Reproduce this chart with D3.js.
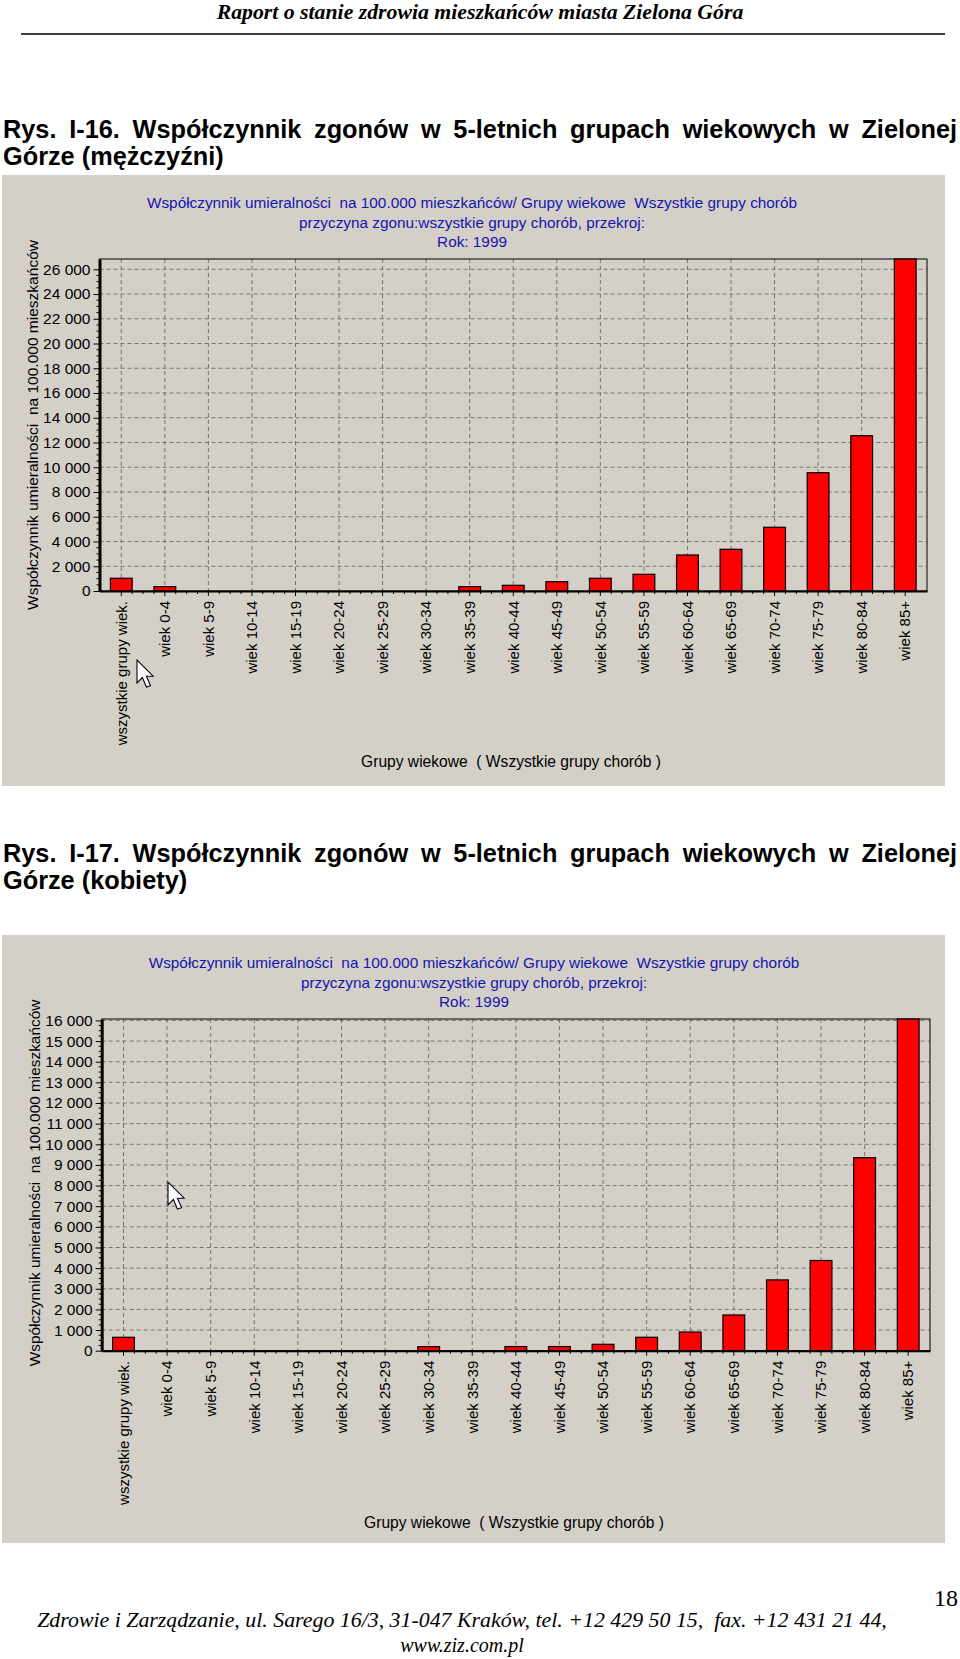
<!DOCTYPE html>
<meta charset="utf-8">
<style>
  body { margin: 0; background: #fff; }
  svg text { white-space: pre; }
</style>
<script src="https://cdn.jsdelivr.net/npm/d3@7"></script>
<body>
<script>

// age groups on the x axis
var categories = ["wszystkie grupy wiek.", "wiek 0-4", "wiek 5-9", "wiek 10-14", "wiek 15-19",
  "wiek 20-24", "wiek 25-29", "wiek 30-34", "wiek 35-39", "wiek 40-44", "wiek 45-49",
  "wiek 50-54", "wiek 55-59", "wiek 60-64", "wiek 65-69", "wiek 70-74", "wiek 75-79",
  "wiek 80-84", "wiek 85+"];

// deaths per 100 000, 1999
var menValues = [1030, 350, 0, 0, 0, 0, 0, 0, 350, 460, 750, 1030, 1350, 2910, 3370, 5150, 9560, 12550, 26830];
var womenValues = [650, 0, 0, 0, 0, 0, 0, 195, 0, 200, 200, 310, 650, 905, 1730, 3430, 4370, 9350, 16070];

var menTicks = d3.range(0, 26001, 2000);
var womenTicks = d3.range(0, 16001, 1000);
var menMax = 26830, womenMax = 16070;

var chartTitle = ["Współczynnik umieralności  na 100.000 mieszkańców/ Grupy wiekowe  Wszystkie grupy chorób",
  "przyczyna zgonu:wszystkie grupy chorób, przekroj:",
  "Rok: 1999"];
var yTitle = "Współczynnik umieralności  na 100.000 mieszkańców";
var xTitle = "Grupy wiekowe  ( Wszystkie grupy chorób )";

var SANS = "'Liberation Sans', Arial, sans-serif";
var SERIF = "'Liberation Serif', 'Times New Roman', serif";

var locale = d3.formatLocale({decimal: ",", thousands: " ", grouping: [3], currency: ["", ""]});
var fmt = locale.format(",d");

var svg = d3.select("body").append("svg")
  .attr("width", 960)
  .attr("height", 1659);

function fitFont(sel, target) {
  var w = sel.node().getComputedTextLength();
  var fs = parseFloat(sel.attr("font-size"));
  sel.attr("font-size", (fs * target / w).toFixed(2));
  return sel;
}

// spread the words of a line between x0 and x1
function justify(g, str, x0, x1, y) {
  var words = str.split(" ");
  var nodes = words.map(function(w) { return g.append("text").attr("y", y).text(w); });
  var widths = nodes.map(function(n) { return n.node().getComputedTextLength(); });
  var gap = (x1 - x0 - d3.sum(widths)) / (words.length - 1);
  var cx = x0;
  nodes.forEach(function(n, i) { n.attr("x", cx); cx += widths[i] + gap; });
}

function cursor(x, y) {
  svg.append("path")
    .attr("d", "M0,0 L0,17 L4,13 L7,20 L10,19 L7,12 L12,12 Z")
    .attr("transform", "translate(" + x + "," + y + ") scale(1.35)")
    .attr("fill", "#fff")
    .attr("stroke", "#000")
    .attr("stroke-width", 0.8);
}

// page header
fitFont(svg.append("text")
  .attr("x", 480).attr("y", 19)
  .attr("text-anchor", "middle")
  .attr("font-family", SERIF).attr("font-style", "italic").attr("font-weight", "bold")
  .attr("font-size", 20)
  .text("Raport o stanie zdrowia mieszkańców miasta Zielona Góra"), 527);

svg.append("line")
  .attr("x1", 21).attr("x2", 945).attr("y1", 34).attr("y2", 34)
  .attr("stroke", "#000").attr("stroke-width", 1.5);

// figure captions
var cap = svg.append("g").attr("font-family", SANS).attr("font-weight", "bold").attr("font-size", 25.3);
justify(cap, "Rys. I-16. Współczynnik zgonów w 5-letnich grupach wiekowych w Zielonej", 3, 957, 138);
cap.append("text").attr("x", 3).attr("y", 165).text("Górze (mężczyźni)");
justify(cap, "Rys. I-17. Współczynnik zgonów w 5-letnich grupach wiekowych w Zielonej", 3, 957, 862);
cap.append("text").attr("x", 3).attr("y", 889).text("Górze (kobiety)");

function drawChart(cfg, values, ticks, yMax) {
  var g = svg.append("g");

  g.append("rect")
    .attr("x", cfg.panel[0]).attr("y", cfg.panel[1])
    .attr("width", cfg.panel[2] - cfg.panel[0]).attr("height", cfg.panel[3] - cfg.panel[1])
    .attr("fill", "#d4d0c8");

  var x = d3.scaleBand()
    .domain(categories)
    .range([cfg.left, cfg.right])
    .paddingInner(0.5)
    .paddingOuter(0.25);

  var y = d3.scaleLinear()
    .domain([0, yMax])
    .range([cfg.bottom, cfg.top]);

  var cx = function(d) { return x(d) + x.bandwidth() / 2; };

  // titles
  var tg = g.append("g").attr("font-family", SANS).attr("fill", "#1414b0").attr("text-anchor", "middle");
  var t0 = tg.append("text").attr("x", cfg.titleX).attr("y", cfg.titleY[0]).attr("font-size", 14).text(chartTitle[0]);
  fitFont(t0, cfg.titleW);
  tg.selectAll("text.sub").data(chartTitle.slice(1)).enter().append("text")
    .attr("class", "sub")
    .attr("x", cfg.titleX)
    .attr("y", function(d, i) { return cfg.titleY[i + 1]; })
    .attr("font-size", t0.attr("font-size"))
    .text(function(d) { return d; });

  // grid
  var grid = g.append("g").attr("stroke", "#747474").attr("stroke-dasharray", "4,3");
  grid.selectAll("line.h").data(ticks.filter(function(d) { return d > 0; })).enter().append("line")
    .attr("x1", cfg.left).attr("x2", cfg.right)
    .attr("y1", y).attr("y2", y);
  grid.selectAll("line.v").data(categories).enter().append("line")
    .attr("x1", cx).attr("x2", cx)
    .attr("y1", cfg.top).attr("y2", cfg.bottom);

  g.append("rect")
    .attr("x", cfg.left).attr("y", cfg.top)
    .attr("width", cfg.right - cfg.left).attr("height", cfg.bottom - cfg.top)
    .attr("fill", "none").attr("stroke", "#000");

  // bars
  g.append("g").selectAll("rect")
    .data(values.map(function(v, i) { return {k: categories[i], v: v}; }).filter(function(d) { return d.v > 0; }))
    .enter().append("rect")
    .attr("x", function(d) { return x(d.k); })
    .attr("y", function(d) { return y(d.v); })
    .attr("width", x.bandwidth())
    .attr("height", function(d) { return cfg.bottom - y(d.v); })
    .attr("fill", "#ff0000")
    .attr("stroke", "#000")
    .attr("stroke-width", 1.2);

  // y axis
  var ya = g.append("g")
    .attr("transform", "translate(" + cfg.left + ",0)")
    .call(d3.axisLeft(y).tickValues(ticks).tickFormat(fmt).tickSize(6).tickSizeOuter(0).tickPadding(3));
  ya.attr("font-family", SANS).attr("font-size", 15.5);
  ya.select(".domain").attr("stroke-width", 3);

  var step = ticks[1] - ticks[0];
  ya.append("g").selectAll("line")
    .data(d3.range(step / 4, ticks[ticks.length - 1], step / 4).filter(function(d) { return d % step; }))
    .enter().append("line")
    .attr("x1", -3).attr("x2", 0).attr("y1", y).attr("y2", y)
    .attr("stroke", "#000");

  // x axis
  var xa = g.append("g")
    .attr("transform", "translate(0," + cfg.bottom + ")")
    .call(d3.axisBottom(x).tickSize(5).tickSizeOuter(0));
  xa.attr("font-family", SANS).attr("font-size", 15);
  xa.select(".domain").attr("stroke-width", 2);
  xa.selectAll(".tick text")
    .attr("transform", "rotate(-90)")
    .attr("text-anchor", "end")
    .attr("x", -10)
    .attr("y", 0)
    .attr("dy", "0.35em");

  xa.append("g").selectAll("line")
    .data(d3.cross(categories.slice(0, -1), [1, 2, 3]))
    .enter().append("line")
    .attr("x1", function(d) { return cx(d[0]) + d[1] * x.step() / 4; })
    .attr("x2", function(d) { return cx(d[0]) + d[1] * x.step() / 4; })
    .attr("y1", 0).attr("y2", 3)
    .attr("stroke", "#000");

  // axis titles
  fitFont(g.append("text")
    .attr("transform", "translate(" + cfg.yTitle[0] + "," + cfg.yTitle[1] + ") rotate(-90)")
    .attr("text-anchor", "middle")
    .attr("font-family", SANS).attr("font-size", 15)
    .text(yTitle), cfg.yTitleW);

  fitFont(g.append("text")
    .attr("x", cfg.xTitle[0]).attr("y", cfg.xTitle[1])
    .attr("text-anchor", "middle")
    .attr("font-family", SANS).attr("font-size", 14)
    .text(xTitle), 300);
}

drawChart({
  panel: [2, 175, 945, 786],
  left: 99.5, right: 927, top: 259, bottom: 591,
  titleX: 472, titleW: 650, titleY: [208, 228, 247],
  yTitle: [38, 425], yTitleW: 370,
  xTitle: [511, 767]
}, menValues, menTicks, menMax);

drawChart({
  panel: [2, 935, 945, 1543],
  left: 101.7, right: 930, top: 1019, bottom: 1350.7,
  titleX: 474, titleW: 651, titleY: [968, 988, 1007],
  yTitle: [40, 1183], yTitleW: 367,
  xTitle: [514, 1528]
}, womenValues, womenTicks, womenMax);

cursor(137, 660);
cursor(168, 1182);

// footer
svg.append("text")
  .attr("x", 958).attr("y", 1606)
  .attr("text-anchor", "end")
  .attr("font-family", SERIF).attr("font-size", 24)
  .text("18");

var foot = svg.append("g").attr("font-family", SERIF).attr("font-style", "italic").attr("text-anchor", "middle");
fitFont(foot.append("text").attr("x", 462).attr("y", 1627).attr("font-size", 20)
  .text("Zdrowie i Zarządzanie, ul. Sarego 16/3, 31-047 Kraków, tel. +12 429 50 15,  fax. +12 431 21 44,"), 850);
foot.append("text").attr("x", 462).attr("y", 1652).attr("font-size", 20).text("www.ziz.com.pl");

</script>
